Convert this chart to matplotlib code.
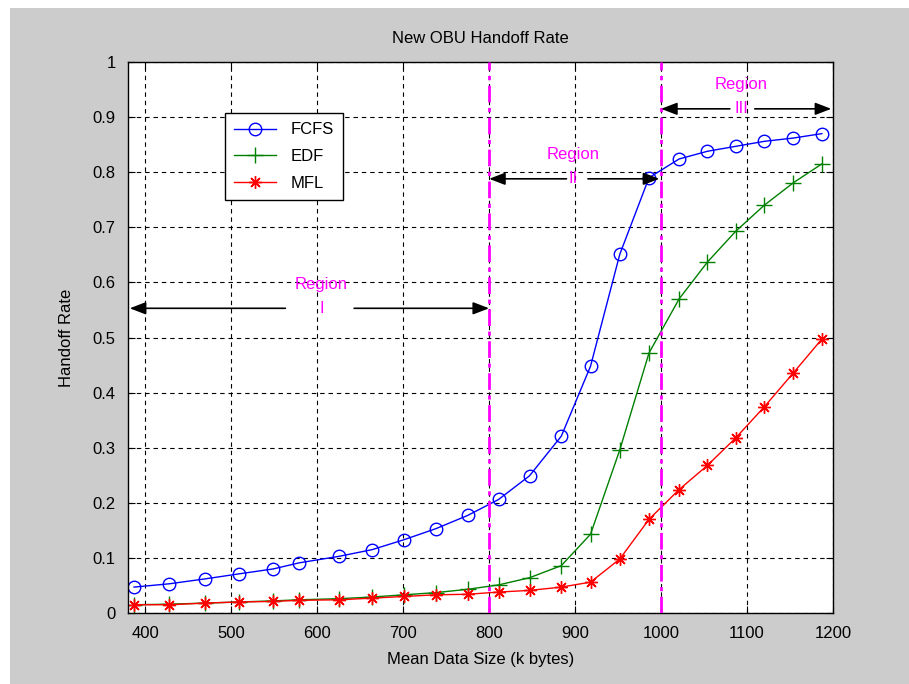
import matplotlib
matplotlib.use("Agg")
import matplotlib.pyplot as plt
from matplotlib.patches import Rectangle

# Mean data size (k bytes), shared by all three series
data_size = [387, 428, 470, 509, 549, 579, 626, 664, 701, 738, 775, 811,
             847, 884, 918, 952, 986, 1021, 1054, 1087, 1120, 1154, 1187]

fcfs = [0.047, 0.053, 0.062, 0.071, 0.080, 0.091, 0.103, 0.115, 0.133, 0.153, 0.177, 0.206,
        0.249, 0.321, 0.448, 0.651, 0.790, 0.824, 0.838, 0.847, 0.856, 0.862, 0.870]
edf = [0.015, 0.016, 0.018, 0.020, 0.022, 0.024, 0.026, 0.029, 0.033, 0.037, 0.043, 0.051,
       0.064, 0.086, 0.143, 0.296, 0.472, 0.570, 0.637, 0.693, 0.740, 0.781, 0.815]
mfl = [0.015, 0.015, 0.018, 0.020, 0.021, 0.023, 0.024, 0.027, 0.030, 0.033, 0.034, 0.038,
       0.041, 0.047, 0.056, 0.098, 0.170, 0.224, 0.268, 0.318, 0.374, 0.436, 0.497]

# Region boundaries and annotation layout
region_edges = [800, 1000]
region_numerals = ["I", "II", "III"]
region_spans = [(382, 800), (800, 998), (1000, 1198)]
region_gaps = [(563, 643), (890, 915), (1080, 1109)]
region_text_x = [605, 898, 1093]
region_arrow_y = [0.553, 0.788, 0.915]

xticks = [400, 500, 600, 700, 800, 900, 1000, 1100, 1200]
yticks = [0, 0.1, 0.2, 0.3, 0.4, 0.5, 0.6, 0.7, 0.8, 0.9, 1]

plt.rcParams["font.family"] = ["Liberation Sans", "DejaVu Sans"]
fs = 12

fig = plt.figure(figsize=(9.09, 6.84), dpi=100, facecolor="white")
fig.patches.append(Rectangle((10 / 909, 0), 1, 1 - 8 / 684, transform=fig.transFigure,
                             facecolor="#cccccc", edgecolor="none", zorder=-10))
ax = fig.add_axes([128 / 909, 1 - 613 / 684, 705 / 909, 551 / 684])
ax.set_facecolor("white")

ax.plot(data_size, fcfs, "-o", color="#0000ff", lw=1, ms=9, mfc="none", mew=1, label="FCFS")
ax.plot(data_size, edf, "-+", color="#008000", lw=1, ms=11, mew=1, label="EDF")
ax.plot(data_size, mfl, "-", marker=(8, 2, 0), color="#ff0000", lw=1, ms=9, mew=1, label="MFL")

for xe in region_edges:
    ax.axvline(xe, color="#ff00ff", lw=2, dashes=(6, 2, 1.5, 2), zorder=3)

arrow_kw = dict(arrowstyle="-|>,head_length=0.65,head_width=0.25", color="black",
                lw=1.2, mutation_scale=15, shrinkA=0, shrinkB=0)
for num, (x0, x1), (g0, g1), tx, ay in zip(region_numerals, region_spans, region_gaps,
                                            region_text_x, region_arrow_y):
    ax.annotate("", xy=(x0, ay), xytext=(g0, ay), arrowprops=arrow_kw)
    ax.annotate("", xy=(x1, ay), xytext=(g1, ay), arrowprops=arrow_kw)
    ax.text(tx, ay + 0.044, "Region", color="#ff00ff", fontsize=fs, ha="center", va="center")
    ax.text(tx, ay, num, color="#ff00ff", fontsize=fs, ha="center", va="center")

ax.set_xlim(380, 1200)
ax.set_ylim(0, 1)
ax.set_xticks(xticks)
ax.set_yticks(yticks)
ax.set_yticklabels([f"{v:g}" for v in yticks])
ax.tick_params(direction="in", length=5, top=True, right=True, labelsize=fs, pad=9)
ax.grid(True, color="black", lw=0.8, dashes=(4, 3.5))
for s in ax.spines.values():
    s.set_linewidth(1)

ax.set_title("New OBU Handoff Rate", fontsize=fs, pad=14)
ax.set_xlabel("Mean Data Size (k bytes)", fontsize=fs, labelpad=8)
ax.set_ylabel("Handoff Rate", fontsize=fs, labelpad=13)

leg = ax.legend(loc="upper left", bbox_to_anchor=(0.1376, 0.907), borderaxespad=0,
                fontsize=fs, fancybox=False, edgecolor="black", framealpha=1,
                handlelength=2.5, handletextpad=0.9, labelspacing=0.7, borderpad=0.55)
leg.get_frame().set_linewidth(1)

fig.savefig("out.png", dpi=100, facecolor=fig.get_facecolor())
